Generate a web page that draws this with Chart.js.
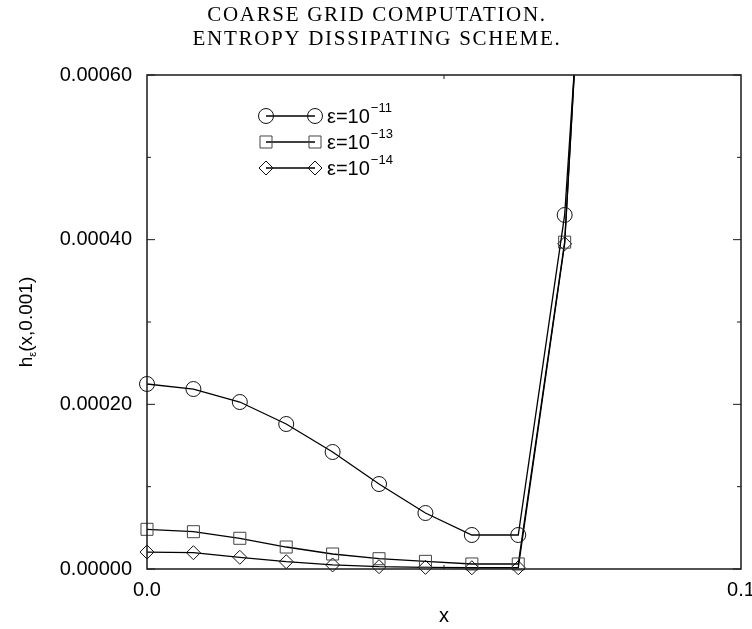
<!DOCTYPE html>
<html><head><meta charset="utf-8">
<script src="https://cdn.jsdelivr.net/npm/chart.js@4.4.1/dist/chart.umd.min.js"></script>
<style>html,body{margin:0;padding:0;background:#fff;}#wrap{width:752px;height:629px;position:relative;}</style>
</head><body><div id="wrap"><canvas id="c"></canvas></div>
<script>
// ---- data ----
const titleLines = ['COARSE GRID COMPUTATION.', 'ENTROPY DISSIPATING SCHEME.'];
const xValues = [0, 0.0078125, 0.015625, 0.0234375, 0.03125, 0.0390625, 0.046875, 0.0546875, 0.0625, 0.0703125, 0.078125];
const hEps11 = [0.0002247, 0.0002186, 0.0002028, 0.0001761, 0.0001421, 0.0001032, 0.0000680, 0.0000413, 0.0000413, 0.000430, 0.00128];
const hEps13 = [0.0000482, 0.0000453, 0.0000373, 0.0000267, 0.0000182, 0.0000125, 0.0000093, 0.0000061, 0.0000061, 0.000397, 0.00139];
const hEps14 = [0.0000206, 0.0000198, 0.0000142, 0.0000089, 0.0000049, 0.0000028, 0.0000020, 0.0000015, 0.0000015, 0.000395, 0.00139];
const legendBase = ['ε=10', 'ε=10', 'ε=10'];
const legendExponents = ['−11', '−13', '−14'];
const yTickValues = [0, 0.0002, 0.0004, 0.0006];
const yMinorValues = [0.0001, 0.0003, 0.0005];
const xTickValues = [0, 0.1];
const xMinorValues = [0.05];
const xAxisLabel = 'x';
const yAxisLabelParts = ['h', 'ε', '(x,0.001)'];

const SANS = '"Liberation Sans", Arial, sans-serif';
const SERIF = '"Liberation Serif", "Times New Roman", serif';
const toPoints = ys => ys.map((y, i) => ({x: xValues[i], y}));
const clipBox = {left: false, top: 0, right: 0, bottom: false};

const styles = [
  {pointStyle: 'circle', pointRadius: 7.5, pointBorderColor: '#111'},
  {pointStyle: 'rect', pointRadius: 8.5, pointBorderColor: '#444'},
  {pointStyle: 'rectRot', pointRadius: 7, pointBorderColor: '#111'}
];
const series = [hEps11, hEps13, hEps14];

const datasets = series.map((s, i) => Object.assign({
  label: legendBase[i] + legendExponents[i],
  data: toPoints(s),
  borderColor: '#000',
  borderWidth: 1.3,
  pointBorderWidth: 1,
  pointBackgroundColor: 'rgba(0,0,0,0)',
  tension: 0,
  clip: clipBox
}, styles[i]));

function drawMarker(ctx, style, r, x, y) {
  ctx.beginPath();
  if (style === 'circle') {
    ctx.arc(x, y, r, 0, Math.PI * 2);
  } else if (style === 'rect') {
    const h = r * Math.SQRT1_2;
    ctx.rect(x - h, y - h, 2 * h, 2 * h);
  } else {
    ctx.moveTo(x - r, y); ctx.lineTo(x, y - r); ctx.lineTo(x + r, y); ctx.lineTo(x, y + r); ctx.closePath();
  }
  ctx.stroke();
}

const deco = {
  id: 'deco',
  afterDatasetsDraw(chart) {
    const ctx = chart.ctx;
    const a = chart.chartArea;
    const xs = chart.scales.x, ys = chart.scales.y;
    ctx.save();
    // frame
    ctx.strokeStyle = '#1a1a1a';
    ctx.lineWidth = 1.5;
    ctx.strokeRect(a.left, a.top, a.right - a.left, a.bottom - a.top);
    // inward ticks
    ctx.lineWidth = 1;
    ctx.beginPath();
    yTickValues.forEach(v => {
      const p = ys.getPixelForValue(v);
      ctx.moveTo(a.left, p); ctx.lineTo(a.left + 8, p);
      ctx.moveTo(a.right, p); ctx.lineTo(a.right - 8, p);
    });
    yMinorValues.forEach(v => {
      const p = ys.getPixelForValue(v);
      ctx.moveTo(a.left, p); ctx.lineTo(a.left + 4, p);
      ctx.moveTo(a.right, p); ctx.lineTo(a.right - 4, p);
    });
    xMinorValues.forEach(v => {
      const p = xs.getPixelForValue(v);
      ctx.moveTo(p, a.bottom); ctx.lineTo(p, a.bottom - 4);
      ctx.moveTo(p, a.top); ctx.lineTo(p, a.top + 4);
    });
    ctx.stroke();

    // legend
    const rows = [116, 142, 168];
    const lx0 = 266, lx1 = 315, tx = 327;
    for (let i = 0; i < 3; i++) {
      const y = rows[i];
      ctx.strokeStyle = '#000'; ctx.lineWidth = 1.3;
      ctx.beginPath(); ctx.moveTo(lx0, y); ctx.lineTo(lx1, y); ctx.stroke();
      ctx.strokeStyle = styles[i].pointBorderColor; ctx.lineWidth = 1;
      drawMarker(ctx, styles[i].pointStyle, styles[i].pointRadius, lx0, y);
      drawMarker(ctx, styles[i].pointStyle, styles[i].pointRadius, lx1, y);
      ctx.fillStyle = '#000';
      ctx.textAlign = 'left'; ctx.textBaseline = 'alphabetic';
      ctx.font = '20px ' + SANS;
      ctx.fillText(legendBase[i], tx, y + 7);
      const w = ctx.measureText(legendBase[i]).width;
      ctx.font = '13px ' + SANS;
      ctx.fillText(legendExponents[i], tx + w + 1, y - 4);
    }

    // x axis label
    ctx.font = '20px ' + SANS;
    ctx.textAlign = 'center'; ctx.textBaseline = 'middle';
    ctx.fillText(xAxisLabel, (a.left + a.right) / 2, 616);

    // y axis label (rotated)
    ctx.save();
    ctx.translate(32, 322);
    ctx.rotate(-Math.PI / 2);
    ctx.textBaseline = 'alphabetic'; ctx.textAlign = 'left';
    ctx.font = '19px ' + SANS;
    const w0 = ctx.measureText(yAxisLabelParts[0]).width;
    const w2 = ctx.measureText(yAxisLabelParts[2]).width;
    ctx.font = '11px ' + SANS;
    const w1 = ctx.measureText(yAxisLabelParts[1]).width;
    let x = -(w0 + w1 + w2) / 2;
    ctx.font = '19px ' + SANS;
    ctx.fillText(yAxisLabelParts[0], x, 0); x += w0;
    ctx.font = '11px ' + SANS;
    ctx.fillText(yAxisLabelParts[1], x, 4); x += w1;
    ctx.font = '19px ' + SANS;
    ctx.fillText(yAxisLabelParts[2], x, 0);
    ctx.restore();

    // title
    ctx.font = '21px ' + SERIF;
    ctx.textAlign = 'center'; ctx.textBaseline = 'middle';
    if ('letterSpacing' in ctx) ctx.letterSpacing = '1.7px';
    ctx.fillText(titleLines[0], 377, 15);
    ctx.fillText(titleLines[1], 377, 39);
    ctx.restore();
  }
};

new Chart(document.getElementById('c'), {
  type: 'line',
  data: {datasets},
  plugins: [deco],
  options: {
    responsive: true,
    maintainAspectRatio: false,
    animation: false,
    layout: {padding: {left: 0, right: 11, top: 75, bottom: 0}},
    plugins: {legend: {display: false}, title: {display: false}, tooltip: {enabled: false}},
    scales: {
      x: {
        type: 'linear', min: 0, max: 0.1,
        grid: {display: false, drawTicks: false},
        border: {display: false},
        afterBuildTicks: s => { s.ticks = xTickValues.map(v => ({value: v})); },
        afterFit: s => { s.height = 60; s.paddingLeft = 0; s.paddingRight = 0; },
        ticks: {padding: 9, maxRotation: 0, autoSkip: false, color: '#000', font: {family: SANS, size: 20},
          callback: v => Number(v).toFixed(1)}
      },
      y: {
        type: 'linear', min: 0, max: 0.0006,
        grid: {display: false, drawTicks: false},
        border: {display: false},
        afterBuildTicks: s => { s.ticks = yTickValues.map(v => ({value: v})); },
        afterFit: s => { s.width = 147; s.paddingTop = 0; s.paddingBottom = 0; },
        ticks: {padding: 15, autoSkip: false, color: '#000', font: {family: SANS, size: 20},
          callback: v => Number(v).toFixed(5)}
      }
    }
  }
});
</script>
</body></html>
